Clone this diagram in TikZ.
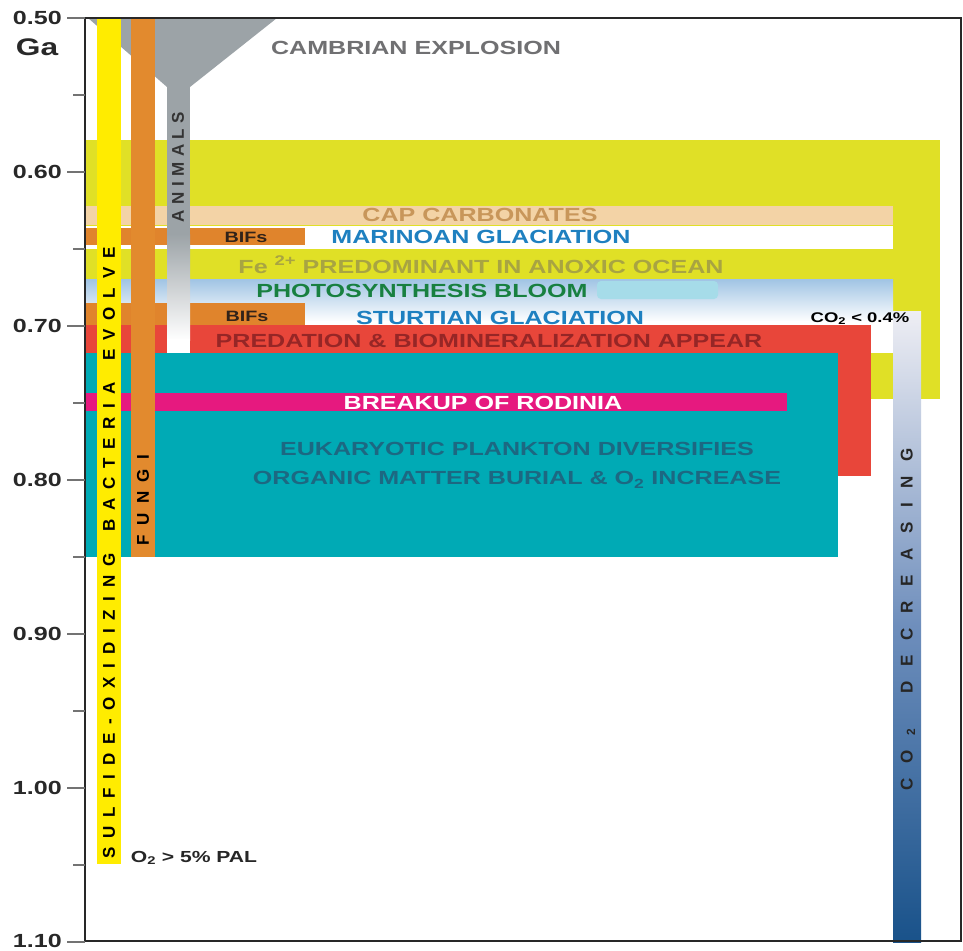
\documentclass[tikz,border=0pt]{standalone}
\usepackage{fontspec}
\setmainfont{Liberation Sans}
\newfontfamily\wide{Liberation Sans}[FakeStretch=1.32]
\definecolor{clime}{RGB}{224,224,38}
\definecolor{cpeach}{RGB}{243,211,166}
\definecolor{cbif}{RGB}{224,132,44}
\definecolor{cfungi}{RGB}{226,138,46}
\definecolor{csulf}{RGB}{255,236,0}
\definecolor{cpred}{RGB}{232,70,58}
\definecolor{cteal}{RGB}{0,170,181}
\definecolor{cmag}{RGB}{230,25,127}
\definecolor{cfgray}{RGB}{156,163,167}
\definecolor{cphoto}{RGB}{160,196,228}
\definecolor{csmudge}{RGB}{166,220,233}
\definecolor{cco2top}{RGB}{238,238,244}
\definecolor{cco2mid}{RGB}{110,142,188}
\definecolor{cco2bot}{RGB}{25,82,138}
\definecolor{ctgray}{RGB}{112,112,114}
\definecolor{cttan}{RGB}{200,150,90}
\definecolor{ctblue}{RGB}{30,128,192}
\definecolor{ctolive}{RGB}{168,164,66}
\definecolor{ctgreen}{RGB}{24,128,64}
\definecolor{ctred}{RGB}{150,38,38}
\definecolor{ctteal}{RGB}{28,104,130}
\definecolor{ctdark}{RGB}{50,35,25}
\definecolor{caxis}{RGB}{40,40,40}
\def\spA#1{#1\spB}
\def\spB#1{\ifx#1\relax\else\hfil#1\expandafter\spB\fi}
\newcommand\spreadtxt[2]{\makebox[#1][s]{\spA#2\relax}}
\newcommand\two{\textsubscript{2}}
\begin{document}
\begin{tikzpicture}[x=1pt,y=-1pt,
  lbl/.style={font={\wide\bfseries\fontsize{19}{19}\selectfont},inner sep=0pt},
  small/.style={font={\wide\bfseries\fontsize{15}{15}\selectfont},inner sep=0pt},
  rot/.style={font={\bfseries\fontsize{17}{17}\selectfont},inner sep=0pt,rotate=90},
  axl/.style={font={\wide\bfseries\fontsize{19}{19}\selectfont},inner sep=0pt,anchor=east,text=caxis}]
\useasboundingbox (0,0) rectangle (963,950);
\fill[white] (0,0) rectangle (963,950);
% funnel top
\fill[cfgray] (88,18) -- (277,18) -- (190,87) -- (167,87) -- cycle;
% bands
\fill[clime] (85,140) rectangle (940,399);
\fill[cpeach] (85,206) rectangle (893,225);
\fill[white] (85,226) rectangle (893,249);
\fill[top color=cphoto,bottom color=white] (85,279) rectangle (893,322);
\fill[white] (85,321) rectangle (893,353);
\fill[csmudge,rounded corners=4pt] (597,281) rectangle (718,299);
\fill[cbif] (85,228) rectangle (305,245);
\fill[cbif] (85,303) rectangle (305,325);
\fill[cpred] (85,325) rectangle (871,476);
\fill[cteal] (85,353) rectangle (838,557);
\fill[cmag] (85,393) rectangle (787,411);
% animals stem
\fill[cfgray] (167,86) rectangle (190,235);
\fill[top color=cfgray,bottom color=white] (167,234) rectangle (190,340);
\fill[white] (167,339) rectangle (190,353);
% vertical bars
\fill[csulf] (97,18) rectangle (121,864);
\fill[cfungi] (131,18) rectangle (155,557);
% CO2 bar
\fill[top color=cco2top,bottom color=cco2bot,middle color=cco2mid] (893,311) rectangle (921,942);
% labels
\node[lbl,text=ctgray] (cambrian) at (416,48) {CAMBRIAN EXPLOSION};
\node[lbl,text=cttan] (cap) at (480,215) {CAP CARBONATES};
\node[lbl,text=ctblue] (marinoan) at (481,237) {MARINOAN GLACIATION};
\node[small,text=ctdark] (bif1) at (246,237) {BIFs};
\node[lbl,text=ctolive] (fe) at (481,265) {Fe \raisebox{0.42em}{\fontsize{14}{14}\selectfont 2+} PREDOMINANT IN ANOXIC OCEAN};
\node[lbl,text=ctgreen] (photo) at (422,291) {PHOTOSYNTHESIS BLOOM};
\node[small,text=ctdark] (bif2) at (247,316) {BIFs};
\node[lbl,text=ctblue] (sturtian) at (500,318) {STURTIAN GLACIATION};
\node[lbl,text=ctred] (predation) at (489,341) {PREDATION \& BIOMINERALIZATION APPEAR};
\node[lbl,text=white] (rodinia) at (483,403) {BREAKUP OF RODINIA};
\node[lbl,text=ctteal] (euk) at (517,449) {EUKARYOTIC PLANKTON DIVERSIFIES};
\node[lbl,text=ctteal] (org) at (517,480) {ORGANIC MATTER BURIAL \& O\two{} INCREASE};
\node[font={\wide\bfseries\fontsize{14}{14}\selectfont},inner sep=0pt] (co2lim) at (860,319) {CO\two{} < 0.4\%};
\node[font={\wide\bfseries\fontsize{16}{16}\selectfont},inner sep=0pt,text=black!85] (o2) at (194,858) {O\two{} > 5\% PAL};
% rotated labels
\node[rot] (sulfide) at (109,553) {\spreadtxt{611pt}{SULFIDE-OXIDIZING~BACTERIA~EVOLVE}};
\node[rot] (fungi) at (143,500) {\spreadtxt{90pt}{FUNGI}};
\node[rot,text=black!80] (animals) at (178,167) {\spreadtxt{110pt}{ANIMALS}};
\node[rot,text=black!85] (co2dec) at (908,619) {\spreadtxt{342pt}{CO\two~DECREASING}};
% frame
\draw[line width=2pt,caxis] (85,18) rectangle (961,941);
% ticks
\foreach \yy in {18,172,326,480,634,788,942} \draw[line width=1.5pt,black!55] (67,\yy) -- (85,\yy);
\foreach \yy in {95,249,403,557,711,865} \draw[line width=1.5pt,black!55] (73,\yy) -- (85,\yy);
\node[axl] (t050) at (62,18) {0.50};
\node[font={\wide\bfseries\fontsize{24}{24}\selectfont},inner sep=0pt,text=caxis] (ga) at (37,47) {Ga};
\node[axl] (t060) at (62,172) {0.60};
\node[axl] (t070) at (62,326) {0.70};
\node[axl] (t080) at (62,480) {0.80};
\node[axl] (t090) at (62,634) {0.90};
\node[axl] (t100) at (62,788) {1.00};
\node[axl] (t110) at (62,941) {1.10};
\end{tikzpicture}
\end{document}
